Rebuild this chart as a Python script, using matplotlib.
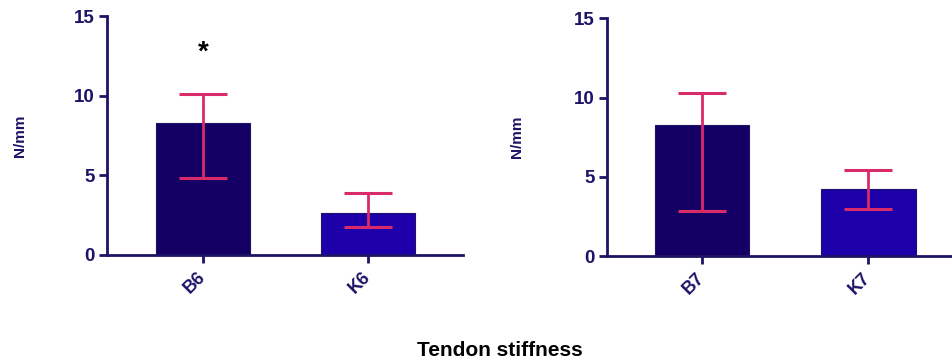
import matplotlib
matplotlib.use("Agg")
import matplotlib.pyplot as plt
import numpy as np

plt.rcParams['font.family'] = ['Liberation Sans', 'DejaVu Sans']

left_categories = ["B6", "K6"]
left_means = [8.27, 2.66]
left_err_low = [4.81, 1.78]
left_err_high = [10.13, 3.87]

right_categories = ["B7", "K7"]
right_means = [8.27, 4.21]
right_err_low = [2.84, 2.98]
right_err_high = [10.26, 5.43]

yticks = [0, 5, 10, 15]
ylabel = "N/mm"
xlabel = "Tendon stiffness"
star_value = 12.7

bar_colors = ["#140064", "#1e00aa"]
err_color = "#d92a6a"
axis_color = "#1c1466"

fig = plt.figure(figsize=(9.53, 3.62), dpi=100)
ax1 = fig.add_axes([0.1123, 0.2956, 0.3736, 0.660])
ax2 = fig.add_axes([0.637, 0.2928, 0.362, 0.6565])

def draw(ax, cats, means, lo, hi, xlim, ylab_x):
    x = np.arange(len(cats))
    ax.bar(x, means, width=0.57, color=bar_colors, edgecolor=axis_color, linewidth=0.8, zorder=2)
    yerr = [np.array(means) - np.array(lo), np.array(hi) - np.array(means)]
    ax.errorbar(x, means, yerr=yerr, fmt='none', ecolor=err_color, elinewidth=2,
                capsize=17, capthick=2.2, zorder=3)
    ax.set_xlim(*xlim)
    ax.set_ylim(0, 15)
    ax.set_yticks(yticks)
    ax.set_xticks(x)
    ax.set_xticklabels(cats, rotation=45, ha='right', va='center', rotation_mode='anchor',
                       fontsize=13, fontweight='bold', color=axis_color)
    for lab in ax.get_yticklabels():
        lab.set_fontsize(13.5)
        lab.set_fontweight('bold')
        lab.set_color(axis_color)
    ax.tick_params(axis='both', colors=axis_color, width=2, length=6, pad=3)
    ax.tick_params(axis='x', pad=8)
    for s in ['top', 'right']:
        ax.spines[s].set_visible(False)
    for s in ['left', 'bottom']:
        ax.spines[s].set_color(axis_color)
        ax.spines[s].set_linewidth(2)
    ax.set_ylabel(ylabel, fontsize=11, fontweight='bold', color=axis_color)
    ax.yaxis.set_label_coords(ylab_x, 0.5)

draw(ax1, left_categories, left_means, left_err_low, left_err_high, (-0.582, 1.576), -0.225)
draw(ax2, right_categories, right_means, right_err_low, right_err_high, (-0.572, 1.505), -0.24)

ax1.text(0, star_value, "*", ha='center', va='center', fontsize=20, fontweight='bold', color='black')

fig.text(0.525, 0.033, xlabel, ha='center', va='center', fontsize=15, fontweight='bold', color='black')

fig.savefig("out.png", dpi=100)
